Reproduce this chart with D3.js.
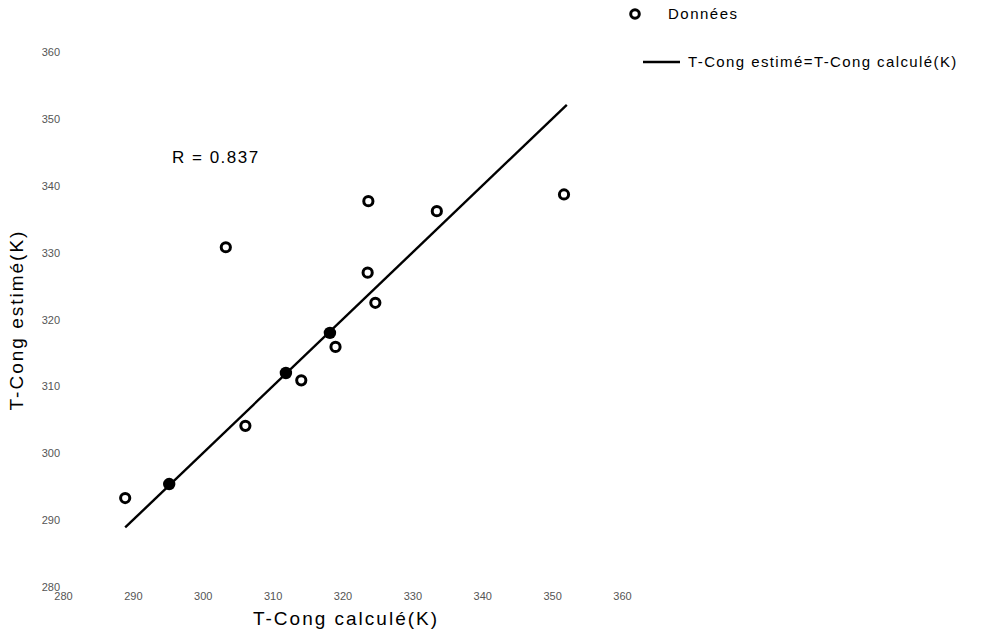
<!DOCTYPE html>
<html><head><meta charset="utf-8">
<script src="https://cdn.jsdelivr.net/npm/d3@7"></script>
<style>
body{margin:0;background:#fff;}
svg{display:block;font-family:"Liberation Sans",Arial,sans-serif;}
</style></head>
<body>
<svg id="c" width="999" height="635"></svg>
<script>
// Data
const xTicks = [280, 290, 300, 310, 320, 330, 340, 350, 360];
const yTicks = [280, 290, 300, 310, 320, 330, 340, 350, 360];
// open markers (T-Cong calculé, T-Cong estimé)
const openX = [288.9, 303.3, 306.1, 314.1, 319.0, 323.6, 324.7, 323.7, 333.5, 351.7];
const openY = [293.3, 330.8, 304.1, 310.9, 315.9, 327.0, 322.5, 337.7, 336.2, 338.7];
// filled markers (points lying on the line)
const filledX = [295.2, 311.9, 318.2];
const filledY = [295.4, 312.0, 318.0];
// identity line endpoints
const lineX = [288.9, 352.1];
const lineY = [288.9, 352.1];
const rText = "R = 0.837";
const xTitle = "T-Cong calculé(K)";
const yTitle = "T-Cong estimé(K)";
const legendLabels = ["Données", "T-Cong estimé=T-Cong calculé(K)"];

const svg = d3.select("#c");
const x = d3.scaleLinear().domain([280, 360]).range([63, 622]);
const y = d3.scaleLinear().domain([280, 360]).range([587, 52]);

// axes (no lines, labels only)
const gx = svg.append("g").attr("transform", "translate(0,590)")
  .call(d3.axisBottom(x).tickValues(xTicks).tickSize(0).tickPadding(2).tickFormat(d3.format("d")));
const gy = svg.append("g").attr("transform", "translate(61,0)")
  .call(d3.axisLeft(y).tickValues(yTicks).tickSize(0).tickPadding(1).tickFormat(d3.format("d")));
[gx, gy].forEach(g => {
  g.select(".domain").remove();
  g.selectAll("text").attr("font-family", "'Liberation Sans', Arial, sans-serif")
    .attr("font-size", 11).attr("fill", "#555");
});

// identity line
svg.append("path")
  .datum(lineX.map((d, i) => [d, lineY[i]]))
  .attr("d", d3.line().x(d => x(d[0])).y(d => y(d[1])))
  .attr("fill", "none").attr("stroke", "#000").attr("stroke-width", 2.4);

// filled points
svg.append("g").selectAll("circle").data(filledX.map((d, i) => [d, filledY[i]]))
  .join("circle").attr("cx", d => x(d[0])).attr("cy", d => y(d[1]))
  .attr("r", 6.2).attr("fill", "#000");

// open points
svg.append("g").selectAll("circle").data(openX.map((d, i) => [d, openY[i]]))
  .join("circle").attr("cx", d => x(d[0])).attr("cy", d => y(d[1]))
  .attr("r", 4.6).attr("fill", "#fff").attr("stroke", "#000").attr("stroke-width", 3);

// R annotation
svg.append("text").attr("x", 172).attr("y", 163).text(rText)
  .attr("font-size", 17).attr("letter-spacing", 1.5).attr("fill", "#000");

// axis titles
svg.append("text").attr("x", 346).attr("y", 625).attr("text-anchor", "middle")
  .attr("font-size", 19).attr("letter-spacing", 2).text(xTitle);
svg.append("text").attr("transform", "translate(23,320) rotate(-90)").attr("text-anchor", "middle")
  .attr("font-size", 19).attr("letter-spacing", 2).text(yTitle);

// legend
const lg = svg.append("g");
lg.append("circle").attr("cx", 635).attr("cy", 14).attr("r", 4.3)
  .attr("fill", "#fff").attr("stroke", "#000").attr("stroke-width", 3);
lg.append("text").attr("x", 668).attr("y", 19).attr("font-size", 15).attr("letter-spacing", 1.5)
  .text(legendLabels[0]);
lg.append("line").attr("x1", 643).attr("x2", 680).attr("y1", 62).attr("y2", 62)
  .attr("stroke", "#000").attr("stroke-width", 2.4);
lg.append("text").attr("x", 688).attr("y", 67).attr("font-size", 15).attr("letter-spacing", 1.4)
  .text(legendLabels[1]);
</script>
</body></html>
